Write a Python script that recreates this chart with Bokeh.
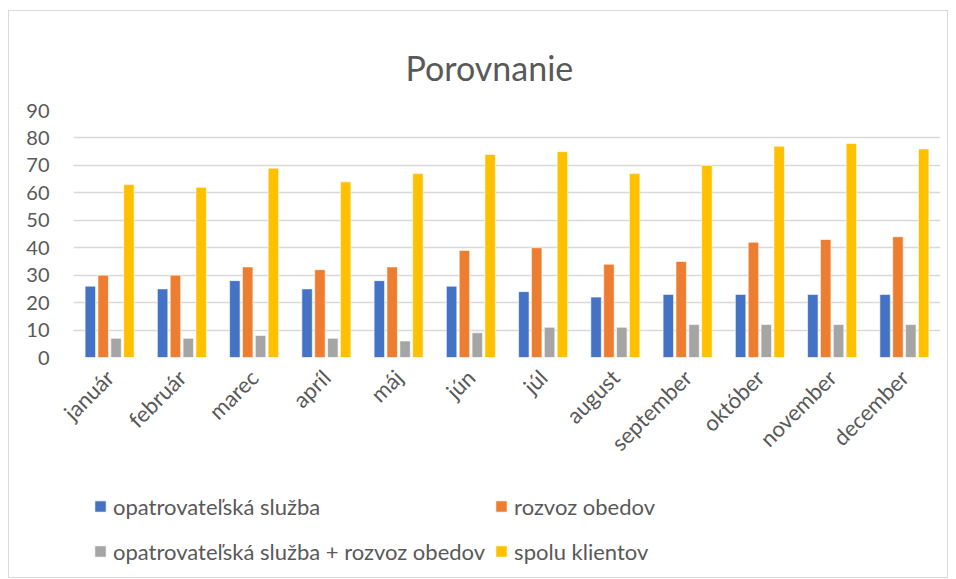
from bokeh.plotting import figure
from bokeh.models import Legend, LegendItem, Range1d, FactorRange, Label, ColumnDataSource
from bokeh.layouts import column
from bokeh.transform import dodge
from bokeh.embed import file_html
from bokeh.resources import INLINE
import math

months = ["január", "február", "marec", "apríl", "máj", "jún", "júl", "august",
          "september", "október", "november", "december"]
opatrovatelska = [26, 25, 28, 25, 28, 26, 24, 22, 23, 23, 23, 23]
rozvoz = [30, 30, 33, 32, 33, 39, 40, 34, 35, 42, 43, 44]
kombinacia = [7, 7, 8, 7, 6, 9, 11, 11, 12, 12, 12, 12]
spolu = [63, 62, 69, 64, 67, 74, 75, 67, 70, 77, 78, 76]

series_names = ["opatrovateľská služba", "rozvoz obedov",
                "opatrovateľská služba + rozvoz obedov", "spolu klientov"]
colors = ["#4472C4", "#ED7D31", "#A5A5A5", "#FFC000"]
title_text = "Porovnanie"

FONT = "Lato"
GRAY = "#595959"

src = ColumnDataSource(dict(m=months, a=opatrovatelska, b=rozvoz, c=kombinacia, d=spolu))

x_range = FactorRange(*months)


def strip(h, xr, yr):
    f = figure(width=938, height=h, x_range=xr, y_range=yr,
               output_backend="svg", toolbar_location=None,
               x_axis_type=None, y_axis_type=None,
               min_border_left=0, min_border_right=0, min_border_top=0, min_border_bottom=0)
    f.outline_line_color = None
    f.grid.visible = False
    return f


# title strip
tf = strip(79, Range1d(0, 1), Range1d(0, 1))
tf.add_layout(Label(x=332, y=23, x_units="screen", y_units="screen", text=title_text,
                    text_font=FONT, text_font_size="34px", text_color=GRAY,
                    text_align="left", text_baseline="alphabetic"))

# main chart
p = figure(width=938, height=390, x_range=x_range, y_range=Range1d(0, 90),
           output_backend="svg", toolbar_location=None,
           min_border_left=64, min_border_right=7, min_border_top=20, min_border_bottom=123)

stride = 0.178
w = 0.145
cols = ["a", "b", "c", "d"]
for i, (col, c) in enumerate(zip(cols, colors)):
    p.vbar(x=dodge("m", (i - 1.5) * stride, range=x_range), top=col, width=w,
           source=src, fill_color=c, line_color="white", line_width=0.6)

p.outline_line_color = None
p.xgrid.grid_line_color = None
p.ygrid.grid_line_color = "#d9d9d9"
p.ygrid.grid_line_width = 1.3
p.yaxis.ticker = list(range(0, 91, 10))
for ax in (p.xaxis, p.yaxis):
    ax.axis_line_color = None
    ax.major_tick_line_color = None
    ax.minor_tick_line_color = None
    ax.major_tick_out = 0
    ax.major_tick_in = 0
    ax.major_label_text_font = FONT
    ax.major_label_text_color = GRAY
p.yaxis.major_label_text_font_size = "20px"
p.xaxis.major_label_text_font_size = "22px"
p.yaxis.major_label_standoff = 24
p.xaxis.major_label_orientation = math.pi / 4
p.xaxis.major_label_standoff = 16

# legend strip (its bars lie outside its visible range; only the legend shows)
lf = strip(97, x_range, Range1d(1000, 1001))
lrs = [lf.vbar(x=dodge("m", (i - 1.5) * stride, range=x_range), top=col, width=w,
               source=src, fill_color=c, line_color="white", line_width=0.6)
       for i, (col, c) in enumerate(zip(cols, colors))]
order = [0, 2, 1, 3]  # column-major: first column holds items 0 and 2
legend = Legend(items=[LegendItem(label=series_names[i], renderers=[lrs[i]]) for i in order],
                ncols=2, location=(20, 8),
                label_text_font=FONT, label_text_font_size="22px", label_text_color=GRAY,
                glyph_width=14, glyph_height=14, label_standoff=6, spacing=9,
                padding=0, margin=0, border_line_color=None, background_fill_alpha=0,
                label_height=36)
lf.add_layout(legend, "center")

layout = column(tf, p, lf, spacing=0)
layout.styles = {"border": "1px solid #d9d9d9", "margin-left": "8px", "margin-top": "10px"}

open("out.html", "w").write(file_html(layout, INLINE))
